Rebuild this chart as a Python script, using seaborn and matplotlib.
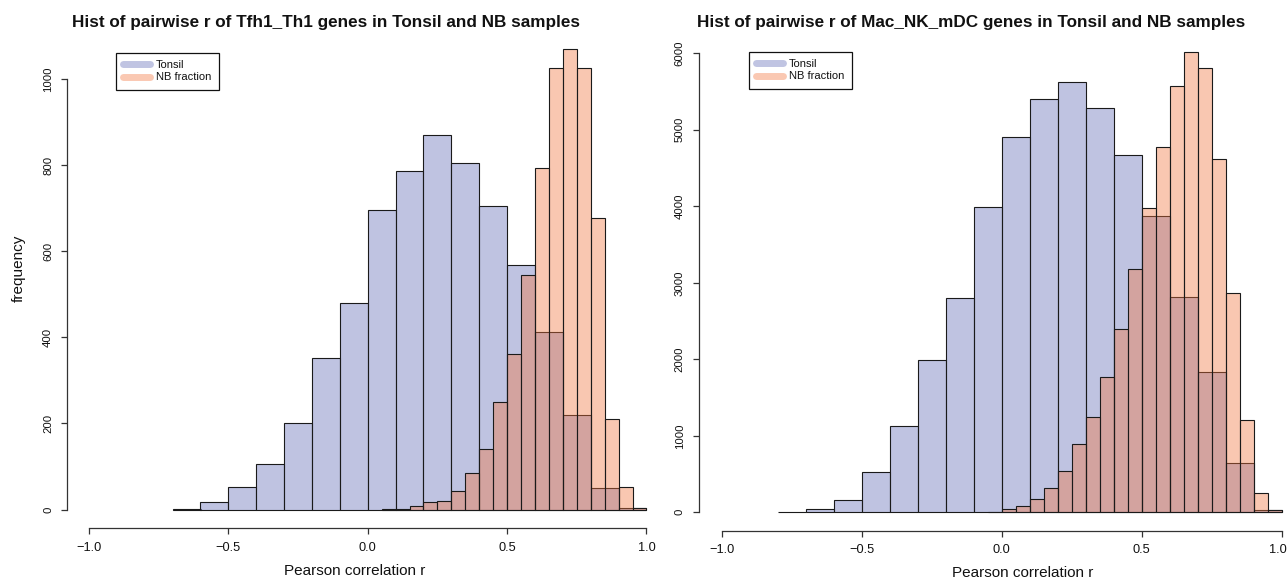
import numpy as np
import pandas as pd
import matplotlib
matplotlib.use("Agg")
import matplotlib.pyplot as plt
import matplotlib.transforms as mtransforms
from matplotlib.lines import Line2D
import seaborn as sns

# ---- histogram counts (pairwise Pearson r) ----
# Tfh1_Th1 gene set
tfh_tonsil_breaks = np.round(np.arange(-0.7, 1.0001, 0.1), 2)
tfh_tonsil_counts = [2, 18, 52, 106, 201, 351, 480, 696, 787, 870,
                     805, 706, 567, 412, 220, 50, 4]
tfh_nb_breaks = np.round(np.arange(0.05, 1.0001, 0.05), 2)
tfh_nb_counts = [1, 2, 9, 18, 21, 42, 85, 141, 250, 362,
                 544, 794, 1026, 1070, 1026, 677, 211, 53, 4]

# Mac_NK_mDC gene set
mac_tonsil_breaks = np.round(np.arange(-0.8, 1.0001, 0.1), 2)
mac_tonsil_counts = [9, 39, 161, 532, 1133, 1996, 2806, 3996, 4906, 5399,
                     5621, 5290, 4675, 3878, 2815, 1830, 640, 30]
mac_nb_breaks = np.round(np.arange(-0.05, 1.0001, 0.05), 2)
mac_nb_counts = [9, 39, 83, 174, 314, 545, 889, 1242, 1773, 2392,
                 3176, 3974, 4780, 5577, 6022, 5808, 4623, 2867, 1203, 257, 30]

series_labels = ["Tonsil", "NB fraction"]
x_ticks = [-1.0, -0.5, 0.0, 0.5, 1.0]
x_ticklabels = ["\u22121.0", "\u22120.5", "0.0", "0.5", "1.0"]
tfh_yticks = [0, 200, 400, 600, 800, 1000]
mac_yticks = [0, 1000, 2000, 3000, 4000, 5000, 6000]

titles = ["Hist of pairwise r of Tfh1_Th1 genes in Tonsil and NB samples",
          "Hist of pairwise r of Mac_NK_mDC genes in Tonsil and NB samples"]

# ---- style ----
sns.set_theme(style="white")
plt.rcParams["font.family"] = ["Liberation Sans", "DejaVu Sans"]

TONSIL_RGB = (129 / 255, 137 / 255, 197 / 255)
NB_RGB = (242 / 255, 117 / 255, 62 / 255)
TONSIL_ALPHA, NB_ALPHA = 0.5, 0.4
EDGE = "#1a1a1a"
AXIS_COL = "#333333"
TEXT_COL = "#111111"


def blended(rgb, a):
    return tuple(a * c + (1 - a) * 1.0 for c in rgb)


W, H = 1287, 580
fig = plt.figure(figsize=(W / 100, H / 100), dpi=100)


def px_axes(x0, x1, y_top, y_bot):
    return fig.add_axes([x0 / W, 1 - y_bot / H, (x1 - x0) / W, (y_bot - y_top) / H])


def hist_layer(ax, breaks, counts, rgb, alpha):
    breaks = [float(b) for b in breaks]
    df = pd.DataFrame({
        "r": [(a + b) / 2 for a, b in zip(breaks[:-1], breaks[1:])],
        "n": [float(c) for c in counts],
    })
    sns.histplot(data=df, x="r", weights="n", bins=breaks, ax=ax,
                 color=rgb, alpha=alpha, edgecolor=EDGE, linewidth=0.8,
                 stat="count")


def draw_panel(ax, t_breaks, t_counts, n_breaks, n_counts, yticks, ytick_pad):
    hist_layer(ax, t_breaks, t_counts, TONSIL_RGB, TONSIL_ALPHA)
    hist_layer(ax, n_breaks, n_counts, NB_RGB, NB_ALPHA)
    ymax = max(max(t_counts), max(n_counts))
    ax.set_xlim(-1.08, 1.08)
    ax.set_ylim(-0.04 * ymax, 1.04 * ymax)
    ax.set_xticks(x_ticks)
    ax.set_xticklabels(x_ticklabels)
    ax.set_yticks(yticks)
    ax.set_yticklabels([str(v) for v in yticks], rotation=90, va="center")
    for s in ["top", "right"]:
        ax.spines[s].set_visible(False)
    ax.spines["left"].set_bounds(yticks[0], yticks[-1])
    ax.spines["bottom"].set_bounds(x_ticks[0], x_ticks[-1])
    for s in ["left", "bottom"]:
        ax.spines[s].set_color(AXIS_COL)
        ax.spines[s].set_linewidth(0.9)
    ax.tick_params(axis="both", which="major", bottom=True, left=True,
                   direction="out", length=4.3, width=0.9,
                   color=AXIS_COL, labelcolor=TEXT_COL)
    ax.tick_params(axis="x", labelsize=9.2, pad=5.5)
    ax.tick_params(axis="y", labelsize=8.2, pad=ytick_pad)
    ax.set_xlabel("Pearson correlation r", fontsize=11, color=TEXT_COL)
    ax.set_ylabel("")
    ax.grid(False)
    ax.set_facecolor("none")

    handles = [Line2D([0], [0], color=blended(TONSIL_RGB, TONSIL_ALPHA), lw=5,
                      solid_capstyle="round"),
               Line2D([0], [0], color=blended(NB_RGB, NB_ALPHA), lw=5,
                      solid_capstyle="round")]
    return handles


# left panel
ax1 = px_axes(66.7, 668.8, 30.4, 528.0)
h1 = draw_panel(ax1, tfh_tonsil_breaks, tfh_tonsil_counts,
                tfh_nb_breaks, tfh_nb_counts, tfh_yticks, 5.5)
ax1.xaxis.set_label_coords((355 - 66.7) / (668.8 - 66.7), (528 - 564) / (528 - 30.4))
ax1.set_ylabel("frequency", fontsize=11, color=TEXT_COL)
ax1.yaxis.set_label_coords((26 - 66.7) / (668.8 - 66.7), (528 - 268) / (528 - 30.4))

# right panel
ax2 = px_axes(699.1, 1304.1, 33.2, 530.7)
h2 = draw_panel(ax2, mac_tonsil_breaks, mac_tonsil_counts,
                mac_nb_breaks, mac_nb_counts, mac_yticks, 6.0)
ax2.xaxis.set_label_coords((1023 - 699.1) / (1304.1 - 699.1), (530.7 - 566) / (530.7 - 33.2))

# keep the last tick label of the right panel inside the canvas
last_lbl = ax2.get_xticklabels()[-1]
last_lbl.set_transform(last_lbl.get_transform() +
                       mtransforms.ScaledTranslation(-4 / 100, 0, fig.dpi_scale_trans))

# legends
for ax, handles, (lx, ly) in [(ax1, h1, (116, 53)), (ax2, h2, (749, 52))]:
    leg = ax.legend(handles, series_labels, loc="upper left",
                    bbox_to_anchor=(lx / W, 1 - ly / H),
                    bbox_transform=fig.transFigure, borderaxespad=0,
                    fontsize=8, frameon=True, fancybox=False, framealpha=1,
                    edgecolor="#111111", handlelength=2.4, handletextpad=0.55,
                    borderpad=0.65, labelspacing=0.2)
    leg.get_frame().set_linewidth(0.9)
    for t in leg.get_texts():
        t.set_color(TEXT_COL)

# titles
fig.text(326 / W, 1 - 23 / H, titles[0], ha="center", va="center",
         fontsize=12.3, fontweight="bold", color=TEXT_COL)
fig.text(971 / W, 1 - 23 / H, titles[1], ha="center", va="center",
         fontsize=12.3, fontweight="bold", color=TEXT_COL)

fig.savefig("out.png", dpi=100, facecolor="white")
